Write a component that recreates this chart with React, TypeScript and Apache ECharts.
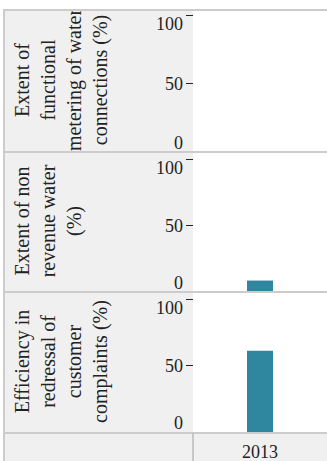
import React, { useEffect, useRef } from "react";
import * as echarts from "echarts";

const categories = ["2013"];
const rowLabels = [
  "Extent of\nfunctional\nmetering of water\nconnections (%)",
  "Extent of non\nrevenue water\n(%)",
  "Efficiency in\nredressal of\ncustomer\ncomplaints (%)",
];
const meteringValues: (number | null)[] = [null];
const nonRevenueValues: (number | null)[] = [8.6];
const complaintValues: (number | null)[] = [61];
const yMin = 0;
const yMax = 100;
const yInterval = 50;

const seriesValues = [meteringValues, nonRevenueValues, complaintValues];

const FONT = "Liberation Serif";
const W = 327;
const H = 461;
const PLOT_LEFT = 193;
const panels = [
  { top: 10, bottom: 152, gridTop: 15 },
  { top: 152, bottom: 292, gridTop: 159 },
  { top: 292, bottom: 433, gridTop: 299 },
];

export default function App() {
  const ref = useRef<HTMLDivElement>(null);
  useEffect(() => {
    document.body.style.margin = "0";
    if (!ref.current) return;
    const chart = echarts.init(ref.current, null, { renderer: "svg" });

    const grids = panels.map((p) => ({
      left: PLOT_LEFT,
      right: 0,
      top: p.gridTop,
      height: p.bottom - p.gridTop,
      containLabel: false,
    }));

    const xAxes = panels.map((_, i) => ({
      type: "category",
      gridIndex: i,
      data: categories,
      axisLine: { show: false },
      axisTick: { show: false },
      axisLabel: {
        show: i === panels.length - 1,
        color: "#222",
        fontFamily: FONT,
        fontSize: 18,
        margin: 11,
      },
      splitLine: { show: false },
    }));

    const yAxes = panels.map((_, i) => ({
      type: "value",
      gridIndex: i,
      min: yMin,
      max: yMax,
      interval: yInterval,
      axisLine: { show: false },
      axisTick: { show: true, length: 7, lineStyle: { color: "#222", width: 1 } },
      splitLine: { show: false },
      axisLabel: {
        color: "#222",
        fontFamily: FONT,
        fontSize: 18,
        margin: 10,
        verticalAlignMaxLabel: "top",
        verticalAlignMinLabel: "bottom",
      },
    }));

    const series = seriesValues.map((vals, i) => ({
      type: "bar",
      xAxisIndex: i,
      yAxisIndex: i,
      data: vals,
      barWidth: 26,
      itemStyle: { color: "#2e879e" },
      z: 2,
    }));

    const lineStyle = { stroke: "#cccccc", lineWidth: 2 };
    const graphic: any[] = [
      { type: "rect", shape: { x: 4, y: 10, width: W - 4, height: H - 10 }, style: { fill: "#f0f0f0" }, z: -5 },
      ...panels.map((p) => ({
        type: "rect",
        shape: { x: PLOT_LEFT, y: p.top, width: W - PLOT_LEFT, height: p.bottom - p.top },
        style: { fill: "#ffffff" },
        z: -4,
      })),
      { type: "line", shape: { x1: 4, y1: 10, x2: W, y2: 10 }, style: lineStyle, z: 30 },
      ...panels.map((p) => ({
        type: "line",
        shape: { x1: 4, y1: p.bottom, x2: W, y2: p.bottom },
        style: lineStyle,
        z: 30,
      })),
      { type: "line", shape: { x1: 4, y1: 9, x2: 4, y2: H }, style: lineStyle, z: 30 },
      { type: "line", shape: { x1: PLOT_LEFT, y1: 433, x2: PLOT_LEFT, y2: H }, style: { stroke: "#bbbbbb", lineWidth: 1.5 }, z: 30 },
      ...panels.map((p, i) => ({
        type: "text",
        x: 9,
        y: (p.top + p.bottom) / 2 - 1,
        rotation: Math.PI / 2,
        style: {
          text: rowLabels[i],
          fill: "#222",
          fontFamily: FONT,
          fontSize: 20,
          align: "center",
          verticalAlign: "top",
          lineHeight: 26,
        },
        z: 20,
      })),
      { type: "rect", shape: { x: 0, y: 0, width: W, height: 9 }, style: { fill: "#ffffff" }, z: 25 },
    ];

    chart.setOption({
      animation: false,
      backgroundColor: "#ffffff",
      grid: grids,
      xAxis: xAxes,
      yAxis: yAxes,
      series,
      graphic,
    });
    return () => chart.dispose();
  }, []);
  return <div ref={ref} style={{ width: W, height: H }} />;
}
